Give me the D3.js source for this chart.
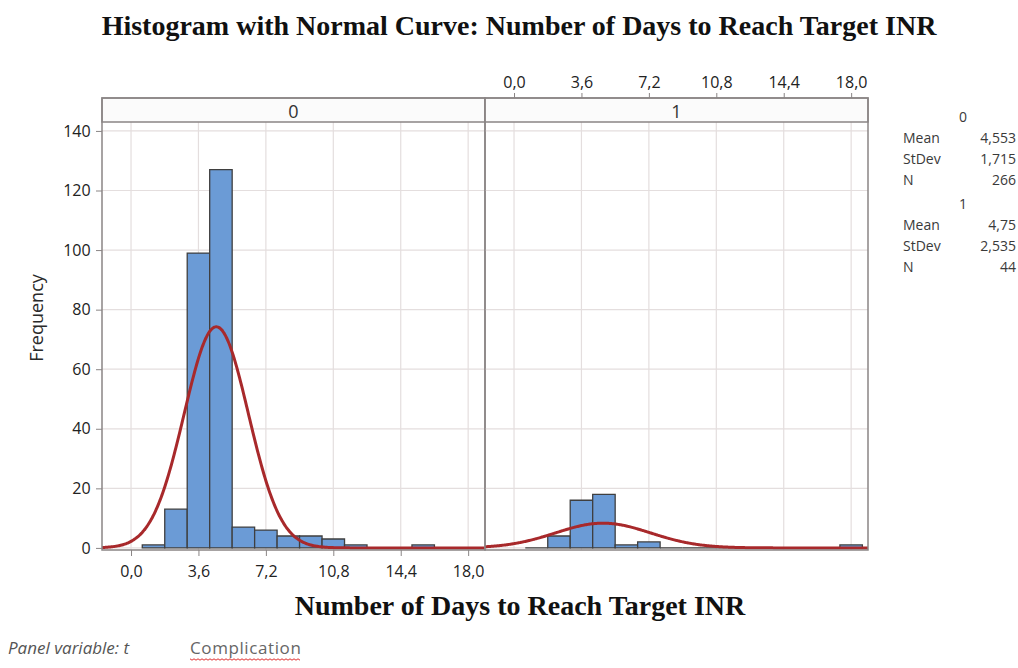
<!DOCTYPE html>
<html><head><meta charset="utf-8">
<script src="https://cdn.jsdelivr.net/npm/d3@7"></script>
<style>
body{margin:0;background:#fff;}
svg{display:block;}
</style></head>
<body>
<svg id="c" width="1018" height="668"></svg>
<script>
// ---- data ----
const panels = ["0", "1"];
const binMids = [1.2, 2.4, 3.6, 4.8, 6.0, 7.2, 8.4, 9.6, 10.8, 12.0, 13.2, 14.4, 15.6, 16.8, 18.0];
const counts0 = [1, 13, 99, 127, 7, 6, 4, 4, 3, 1, 0, 0, 1, 0, 0];
const counts1 = [0, 4, 16, 18, 1, 2, 0, 0, 0, 0, 0, 0, 0, 0, 1];
const binWidth = 1.2;
const means = [4.553, 4.75];
const stdevs = [1.715, 2.535];
const ns = [266, 44];
const meanLabels = ["4,553", "4,75"];
const stdevLabels = ["1,715", "2,535"];
const nLabels = ["266", "44"];
const xTicks = [0, 3.6, 7.2, 10.8, 14.4, 18.0];
const xTickLabels = ["0,0", "3,6", "7,2", "10,8", "14,4", "18,0"];
const yTicks = [0, 20, 40, 60, 80, 100, 120, 140];

const svg = d3.select("#c");
const font = "'Open Sans', 'Noto Sans', sans-serif";
const serif = "'Liberation Serif', 'DejaVu Serif', serif";

const plotTop = 122, plotBottom = 550, headTop = 98;
const panelX = [[102, 485], [485, 868]];
const y = d3.scaleLinear().domain([-0.7, 143]).range([plotBottom, plotTop]);
const xs = panelX.map(r => d3.scaleLinear().domain([-1.55, 18.9]).range(r));
const countsAll = [counts0, counts1];

svg.append("text").attr("x", 519).attr("y", 35).attr("text-anchor", "middle")
  .attr("font-family", serif).attr("font-weight", "bold").attr("font-size", 28)
  .attr("fill", "#111").text("Histogram with Normal Curve: Number of Days to Reach Target INR");

panels.forEach((p, i) => {
  const x = xs[i];
  const [x0, x1] = panelX[i];
  const g = svg.append("g");
  g.selectAll(".vg").data(xTicks).join("line")
    .attr("x1", d => x(d)).attr("x2", d => x(d)).attr("y1", plotTop).attr("y2", plotBottom)
    .attr("stroke", "#e4dede").attr("stroke-width", 1.2);
  g.selectAll(".hg").data(yTicks).join("line")
    .attr("x1", x0).attr("x2", x1).attr("y1", d => y(d)).attr("y2", d => y(d))
    .attr("stroke", "#e4dede").attr("stroke-width", 1.2);
  const bars = binMids.map((m, k) => ({m, c: countsAll[i][k]}));
  g.selectAll(".bar").data(bars).join("path")
    .attr("d", d => {
      const a = x(d.m - binWidth / 2), b = x(d.m + binWidth / 2), y0 = y(0), y1 = y(d.c);
      return `M${a},${y0}V${y1}H${b}V${y0}Z`;
    })
    .attr("fill", "#6b9bd6").attr("stroke", "#3f3f3f").attr("stroke-width", 1.3);
  const pts = d3.range(-1.55, 18.91, 0.05).map(v => {
    const z = (v - means[i]) / stdevs[i];
    return [v, ns[i] * binWidth * Math.exp(-0.5 * z * z) / (stdevs[i] * Math.sqrt(2 * Math.PI))];
  });
  g.append("path").datum(pts)
    .attr("d", d3.line().x(d => x(d[0])).y(d => y(d[1])).curve(d3.curveBasis))
    .attr("fill", "none").attr("stroke", "#a8292b").attr("stroke-width", 3);
  g.append("rect").attr("x", x0).attr("y", headTop).attr("width", x1 - x0).attr("height", plotTop - headTop)
    .attr("fill", "#fbfbfb").attr("stroke", "#8a8585").attr("stroke-width", 1.5);
  g.append("text").attr("x", (x0 + x1) / 2).attr("y", 118).attr("text-anchor", "middle")
    .attr("font-family", font).attr("font-size", 18).attr("fill", "#333").text(p);
  g.append("rect").attr("x", x0).attr("y", headTop).attr("width", x1 - x0).attr("height", plotBottom - headTop)
    .attr("fill", "none").attr("stroke", "#8a8585").attr("stroke-width", 1.5);
});

const axB = svg.append("g").attr("transform", `translate(0,${plotBottom})`)
  .call(d3.axisBottom(xs[0]).tickValues(xTicks).tickFormat((d, k) => xTickLabels[k]).tickSize(6).tickSizeOuter(0));
const axT = svg.append("g").attr("transform", `translate(0,${headTop})`)
  .call(d3.axisTop(xs[1]).tickValues(xTicks).tickFormat((d, k) => xTickLabels[k]).tickSize(5).tickSizeOuter(0));
const axL = svg.append("g").attr("transform", `translate(${panelX[0][0]},0)`)
  .call(d3.axisLeft(y).tickValues(yTicks).tickSize(6).tickSizeOuter(0));
[axB, axT, axL].forEach(a => {
  a.select(".domain").remove();
  a.selectAll("line").attr("stroke", "#8a8585");
  a.selectAll("text").attr("font-family", font).attr("font-size", 16).attr("fill", "#222");
});
axB.selectAll("text").attr("dy", "1.1em");
axT.selectAll("text").attr("dy", "-0.1em");
axL.selectAll("text").attr("dx", "-0.15em");

svg.append("text").attr("transform", "translate(43,318) rotate(-90)").attr("text-anchor", "middle")
  .attr("font-family", font).attr("font-size", 18).attr("fill", "#2a2a2a").text("Frequency");
svg.append("text").attr("x", 520).attr("y", 615).attr("text-anchor", "middle")
  .attr("font-family", serif).attr("font-weight", "bold").attr("font-size", 28)
  .attr("fill", "#111").text("Number of Days to Reach Target INR");

const lg = svg.append("g").attr("font-family", font).attr("font-size", 14).attr("fill", "#3a3a3a");
panels.forEach((p, i) => {
  const base = 122 + i * 87;
  lg.append("text").attr("x", 963).attr("y", base).attr("text-anchor", "middle").text(p);
  const rows = [["Mean", meanLabels[i]], ["StDev", stdevLabels[i]], ["N", nLabels[i]]];
  rows.forEach((r, k) => {
    const yy = base + 21 * (k + 1);
    lg.append("text").attr("x", 903).attr("y", yy).text(r[0]);
    lg.append("text").attr("x", 1016).attr("y", yy).attr("text-anchor", "end").text(r[1]);
  });
});

svg.append("text").attr("x", 8).attr("y", 654).attr("font-family", font).attr("font-size", 17)
  .attr("font-style", "italic").attr("fill", "#555").text("Panel variable: t");
const comp = svg.append("text").attr("x", 190).attr("y", 654).attr("font-family", font).attr("font-size", 17)
  .attr("letter-spacing", 0.6).attr("fill", "#666").text("Complication");
const bb = comp.node().getBBox();
const wave = [];
for (let xx = bb.x; xx <= bb.x + bb.width; xx += 2) wave.push([xx, 659 + ((Math.round((xx - bb.x) / 2) % 2) ? 1.2 : -0.2)]);
svg.append("path").attr("d", d3.line()(wave)).attr("fill", "none").attr("stroke", "#e03030").attr("stroke-width", 1);
</script>
</body></html>
